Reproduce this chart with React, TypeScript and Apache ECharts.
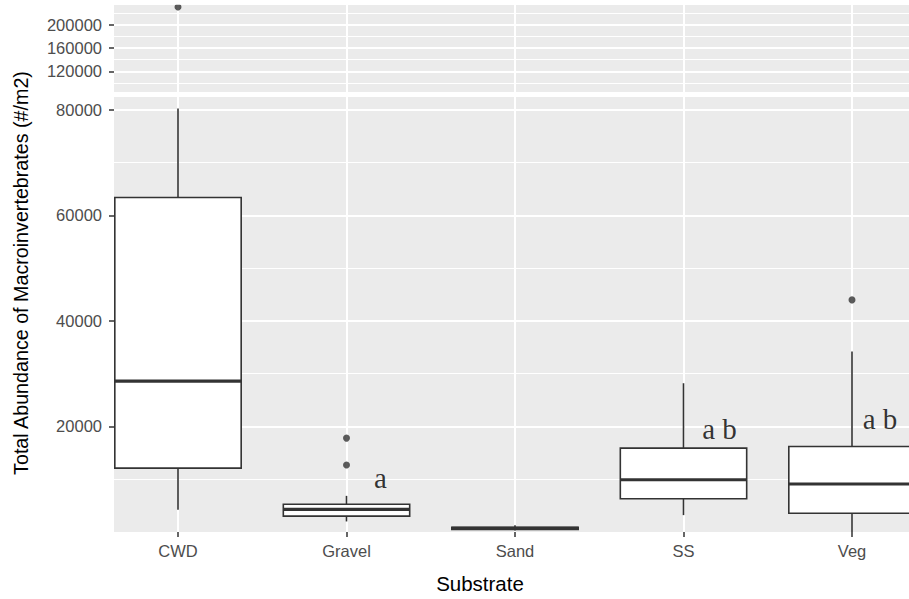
import React, { useEffect, useRef } from 'react';
import * as echarts from 'echarts';

// ---- data ----
const categories = ['CWD', 'Gravel', 'Sand', 'SS', 'Veg'];
const whiskerLow = [4200, 2000, 300, 3200, 0];
const quartile1 = [12100, 3000, 500, 6300, 3550];
const medians = [28600, 4300, 700, 9900, 9100];
const quartile3 = [63400, 5250, 900, 15900, 16200];
const whiskerHigh = [80300, 6850, 1300, 28200, 34200];
const outlierCategory = [0, 1, 1, 4];
const outlierValue = [230500, 17800, 12700, 44000];
const lowerTicks = [20000, 40000, 60000, 80000];
const upperTicks = [120000, 160000, 200000];
const letterText = ['a', 'a b', 'a b'];
const letterCategory = [1, 3, 4];
const letterValue = [10200, 19500, 21400];
const lowerRange = [0, 82460];
const upperRange = [80000, 240000];

const yTitle = 'Total Abundance of Macroinvertebrates (#/m2)';
const xTitle = 'Substrate';

export default function App() {
  const ref = useRef<HTMLDivElement>(null);
  useEffect(() => {
    const chart = echarts.init(ref.current!, undefined, { renderer: 'svg' });
    const FONT = '"Liberation Sans", Arial, sans-serif';
    const INK = '#333333';
    const panelBg = '#ebebeb';
    const letterOffsets = [[34, 0], [36, 0], [28, 0]];

    const boxData = categories.map((_, i) => [i, whiskerLow[i], quartile1[i], medians[i], quartile3[i], whiskerHigh[i]]);
    const upperOutliers: number[][] = [];
    const lowerOutliers: number[][] = [];
    outlierValue.forEach((v, i) => {
      (v > lowerRange[1] ? upperOutliers : lowerOutliers).push([outlierCategory[i], v]);
    });

    const yAxisCommon = (ticks: number[]) => ({
      type: 'value',
      offset: -20.25,
      axisLine: { show: false },
      axisTick: { show: true, length: 5, customValues: ticks, lineStyle: { color: INK, width: 1.5 } },
      axisLabel: {
        customValues: ticks,
        formatter: (v: number) => String(v),
        color: '#4d4d4d',
        fontSize: 16.5,
        fontFamily: FONT,
        margin: 12,
      },
      splitLine: { show: true, lineStyle: { color: '#ffffff', width: 2 } },
      minorTick: { show: false, splitNumber: 2 },
      minorSplitLine: { show: true, lineStyle: { color: '#ffffff', width: 1.2 } },
    });

    const renderBox = (params: any, api: any) => {
      const idx = api.value(0);
      const lo = api.coord([idx, api.value(1)]);
      const q1 = api.coord([idx, api.value(2)]);
      const med = api.coord([idx, api.value(3)]);
      const q3 = api.coord([idx, api.value(4)]);
      const hi = api.coord([idx, api.value(5)]);
      const w = api.size([1, 0])[0] * 0.75;
      const x = med[0];
      const lineStyle = { stroke: INK, lineWidth: 1.6, fill: null };
      return {
        type: 'group',
        children: [
          { type: 'line', shape: { x1: x, y1: hi[1], x2: x, y2: q3[1] }, style: lineStyle },
          { type: 'line', shape: { x1: x, y1: q1[1], x2: x, y2: lo[1] }, style: lineStyle },
          {
            type: 'rect',
            shape: { x: x - w / 2, y: q3[1], width: w, height: q1[1] - q3[1] },
            style: { fill: '#ffffff', stroke: INK, lineWidth: 1.6 },
          },
          {
            type: 'line',
            shape: { x1: x - w / 2, y1: med[1], x2: x + w / 2, y2: med[1] },
            style: { stroke: INK, lineWidth: 3.2 },
          },
        ],
      };
    };

    const option: any = {
      animation: false,
      backgroundColor: '#ffffff',
      grid: [
        { left: 93.75, top: 1.4, width: 842.5, height: 93.2, show: false, containLabel: false, outerBoundsMode: 'none' },
        { left: 93.75, top: 97, width: 842.5, height: 435, show: false, containLabel: false, outerBoundsMode: 'none' },
      ],
      xAxis: [
        {
          gridIndex: 0,
          type: 'category',
          data: categories,
          axisLine: { show: false },
          axisTick: { show: false, alignWithLabel: true },
          axisLabel: { show: false },
          splitLine: { show: true, alignWithLabel: true, lineStyle: { color: '#ffffff', width: 2 } },
        },
        {
          gridIndex: 1,
          type: 'category',
          data: categories,
          axisLine: { show: false },
          axisTick: { show: true, alignWithLabel: true, length: 5, lineStyle: { color: INK, width: 1.5 } },
          axisLabel: { color: '#4d4d4d', fontSize: 16.5, fontFamily: FONT, margin: 10 },
          splitLine: { show: true, alignWithLabel: true, lineStyle: { color: '#ffffff', width: 2 } },
        },
      ],
      yAxis: [
        { gridIndex: 0, min: upperRange[0], max: upperRange[1], interval: 40000, ...yAxisCommon(upperTicks) },
        { gridIndex: 1, min: lowerRange[0], max: lowerRange[1], interval: 20000, ...yAxisCommon(lowerTicks) },
      ],
      graphic: {
        elements: [
          { type: 'rect', z: -10, silent: true, shape: { x: 114, y: 5, width: 800, height: 87 }, style: { fill: panelBg } },
          { type: 'rect', z: -10, silent: true, shape: { x: 114, y: 97, width: 800, height: 435 }, style: { fill: panelBg } },
          { type: 'rect', z: 100, silent: true, shape: { x: 114, y: 0, width: 800, height: 4.7 }, style: { fill: '#ffffff' } },
          {
            type: 'text',
            x: 20.5,
            y: 273,
            rotation: Math.PI / 2,
            style: { text: yTitle, fontSize: 19.7, fontFamily: FONT, fill: '#000000', align: 'center', verticalAlign: 'middle' },
          },
          {
            type: 'text',
            x: 480,
            y: 583,
            style: { text: xTitle, fontSize: 20.5, fontFamily: FONT, fill: '#000000', align: 'center', verticalAlign: 'middle' },
          },
        ],
      },
      series: [
        {
          type: 'custom',
          name: 'box',
          xAxisIndex: 1,
          yAxisIndex: 1,
          data: boxData,
          encode: { x: 0, y: [1, 2, 3, 4, 5] },
          renderItem: renderBox,
          z: 3,
        },
        {
          type: 'scatter',
          xAxisIndex: 1,
          yAxisIndex: 1,
          data: lowerOutliers,
          symbolSize: 7,
          itemStyle: { color: INK },
          z: 4,
        },
        {
          type: 'scatter',
          xAxisIndex: 0,
          yAxisIndex: 0,
          data: upperOutliers,
          symbolSize: 7,
          itemStyle: { color: INK },
          z: 4,
        },
        {
          type: 'scatter',
          xAxisIndex: 1,
          yAxisIndex: 1,
          symbolSize: 1,
          itemStyle: { color: 'transparent' },
          data: letterText.map((t, i) => ({
            value: [letterCategory[i], letterValue[i]],
            label: { offset: letterOffsets[i] },
          })),
          label: {
            show: true,
            position: 'inside',
            formatter: (p: any) => letterText[p.dataIndex],
            color: '#000000',
            fontSize: 29,
            fontFamily: '"Liberation Serif", "Times New Roman", serif',
            align: 'center',
            verticalAlign: 'middle',
          },
          z: 5,
        },
      ],
    };
    chart.setOption(option);
    return () => chart.dispose();
  }, []);
  return <div ref={ref} style={{ position: 'absolute', left: 0, top: 0, width: 909, height: 599 }} />;
}
